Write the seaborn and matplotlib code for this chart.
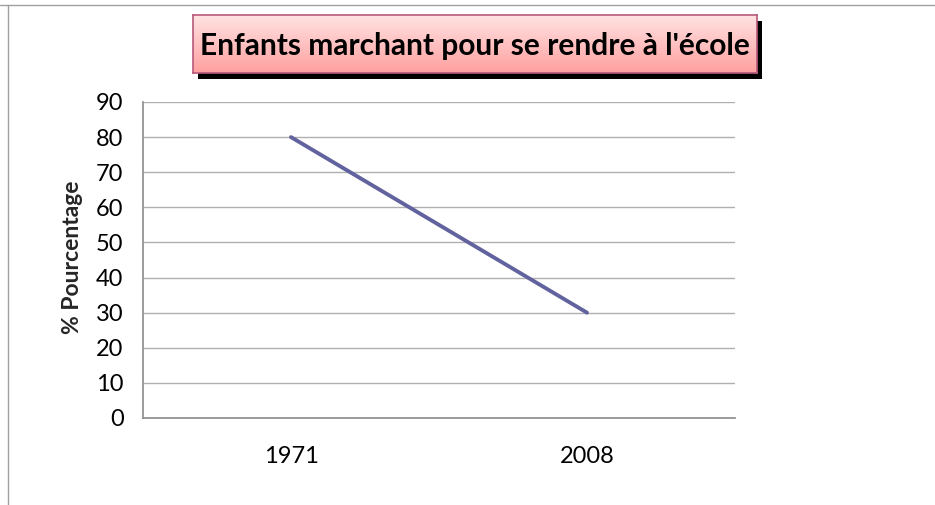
import numpy as np
import pandas as pd
import matplotlib
matplotlib.use("Agg")
import matplotlib.pyplot as plt
import seaborn as sns
from matplotlib.lines import Line2D

years = ["1971", "2008"]
pourcentage = [80, 30]
yticks = [0, 10, 20, 30, 40, 50, 60, 70, 80, 90]
title = "Enfants marchant pour se rendre à l'école"
ylabel = "% Pourcentage"

sns.set_theme(style="white")
plt.rcParams['font.family'] = ['Lato', 'DejaVu Sans']

W, H = 935, 505
fig = plt.figure(figsize=(W / 100, H / 100), dpi=100)

def box(x0, y0, x1, y1):
    # pixel coords (top-left origin) -> figure fraction
    return [x0 / W, 1 - y1 / H, (x1 - x0) / W, (y1 - y0) / H]

ax = fig.add_axes(box(143, 102, 735, 418))
df = pd.DataFrame({"annee": years, "val": pourcentage})
sns.lineplot(data=df, x="annee", y="val", ax=ax, color="#62629e", linewidth=2.8,
             solid_capstyle="round", sort=False)
ax.set_xlim(-0.5, 1.5)
ax.set_ylim(0, 90)
ax.set_yticks(yticks)
ax.yaxis.grid(True, color="#b0b0b0", linewidth=1)
ax.xaxis.grid(False)
for s in ["top", "right"]:
    ax.spines[s].set_visible(False)
ax.spines["left"].set_color("#909090")
ax.spines["bottom"].set_color("#909090")
ax.tick_params(axis="y", labelsize=17, colors="black", length=0, pad=14)
ax.tick_params(axis="x", labelsize=17, colors="black", length=0, pad=20)
ax.set_xlabel("")
ax.set_ylabel(ylabel, fontsize=16.5, fontweight="bold")
ax.yaxis.set_label_coords(-0.1015, 0.508)

# outer frame lines
fig.add_artist(Line2D([0, 1], [1 - 5 / H, 1 - 5 / H], transform=fig.transFigure,
                      color="#a0a0a0", linewidth=1))
fig.add_artist(Line2D([8 / W, 8 / W], [0, 1 - 5 / H], transform=fig.transFigure,
                      color="#a0a0a0", linewidth=1))

# title box: shadow first, then gradient box on top
sax = fig.add_axes(box(198, 21, 762, 79))
sax.set_facecolor("black")
sax.set_xticks([])
sax.set_yticks([])
for s in sax.spines.values():
    s.set_visible(False)

tax = fig.add_axes(box(193, 15, 757, 73))
grad = np.linspace(0, 1, 100).reshape(-1, 1)
cmap = matplotlib.colors.LinearSegmentedColormap.from_list("g", ["#ffe2e2", "#ffa0a0"])
tax.imshow(grad, aspect="auto", cmap=cmap, extent=[0, 1, 0, 1], origin="upper")
tax.set_xticks([])
tax.set_yticks([])
for s in tax.spines.values():
    s.set_color("#b85a7a")
    s.set_linewidth(1.2)
tax.text(0.5, 0.47, title, ha="center", va="center", fontsize=21.5,
         fontweight="bold", color="black", transform=tax.transAxes)

fig.savefig("out.png", dpi=100)
